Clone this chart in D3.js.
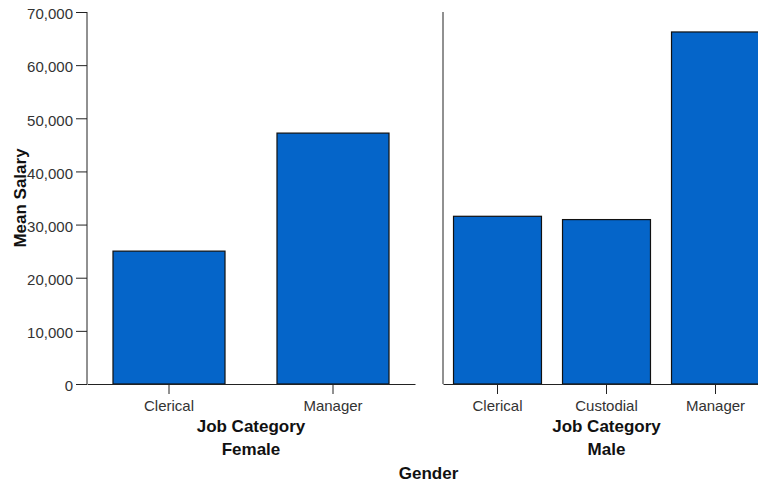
<!DOCTYPE html>
<html><head><meta charset="utf-8">
<script src="https://cdn.jsdelivr.net/npm/d3@7"></script>
<style>
html,body{margin:0;padding:0;background:#fff;overflow:hidden}
text{font-family:"Liberation Sans",Arial,sans-serif}
</style></head>
<body><svg id="c" width="758" height="482"></svg>
<script>
const femaleCats = ["Clerical","Manager"];
const femaleVals = [25003.69, 47213.50];
const maleCats = ["Clerical","Custodial","Manager"];
const maleVals = [31558.15, 30938.89, 66243.24];
const yTicks = [0,10000,20000,30000,40000,50000,60000,70000];

const svg = d3.select("#c");
const plotTop = 12, plotBottom = 384;
const y = d3.scaleLinear().domain([0,70000]).range([plotBottom, plotTop]);
const fmt = d3.format(",");

const panels = [
  {name:"Female", cats:femaleCats, vals:femaleVals, x0:87, x1:415, pad:0.317},
  {name:"Male", cats:maleCats, vals:maleVals, x0:443, x1:770, pad:0.193}
];

// Y axis
const ya = svg.append("g").attr("transform","translate(87,0)")
  .call(d3.axisLeft(y).tickValues(yTicks).tickFormat(fmt).tickSize(11).tickPadding(3));
ya.select(".domain").attr("stroke","#222").attr("d",`M0,${plotTop}V${plotBottom}`);
ya.selectAll(".tick line").attr("stroke","#222");
ya.selectAll(".tick text").attr("font-size",15).attr("fill","#333").attr("dy","0.45em")
  .attr("font-family","Liberation Sans, Arial, sans-serif");

panels.forEach((p,i)=>{
  const x = d3.scaleBand().domain(p.cats).range([p.x0,p.x1])
    .paddingInner(p.pad).paddingOuter(p.pad/2);
  const g = svg.append("g");
  if(i>0){
    g.append("line").attr("x1",p.x0).attr("x2",p.x0).attr("y1",plotTop).attr("y2",plotBottom)
      .attr("stroke","#222").attr("stroke-width",1);
  }
  g.selectAll("rect").data(p.cats).join("rect")
    .attr("x",d=>x(d)).attr("width",x.bandwidth())
    .attr("y",(d,k)=>y(p.vals[k])).attr("height",(d,k)=>plotBottom-y(p.vals[k]))
    .attr("fill","#0565c9").attr("stroke","#111").attr("stroke-width",1.2);
  const xa = g.append("g").attr("transform",`translate(0,${plotBottom})`)
    .call(d3.axisBottom(x).tickSize(10).tickPadding(6).tickSizeOuter(0));
  xa.select(".domain").attr("stroke","#222");
  xa.selectAll(".tick line").attr("stroke","#222");
  xa.selectAll(".tick text").attr("font-size",15).attr("fill","#333")
    .attr("font-family","Liberation Sans, Arial, sans-serif");
  const cx = (p.x0+p.x1)/2;
  g.append("text").attr("x",cx).attr("y",432).attr("text-anchor","middle")
    .attr("font-size",17).attr("font-weight","bold").attr("fill","#111").text("Job Category");
  g.append("text").attr("x",cx).attr("y",455).attr("text-anchor","middle")
    .attr("font-size",17).attr("font-weight","bold").attr("fill","#111").text(p.name);
});

svg.append("text").attr("x",(87+770)/2).attr("y",479).attr("text-anchor","middle")
  .attr("font-size",17).attr("font-weight","bold").attr("fill","#111").text("Gender");
svg.append("text").attr("transform",`translate(26,${(plotTop+plotBottom)/2}) rotate(-90)`)
  .attr("text-anchor","middle").attr("font-size",17).attr("font-weight","bold")
  .attr("fill","#111").text("Mean Salary");
</script></body></html>
